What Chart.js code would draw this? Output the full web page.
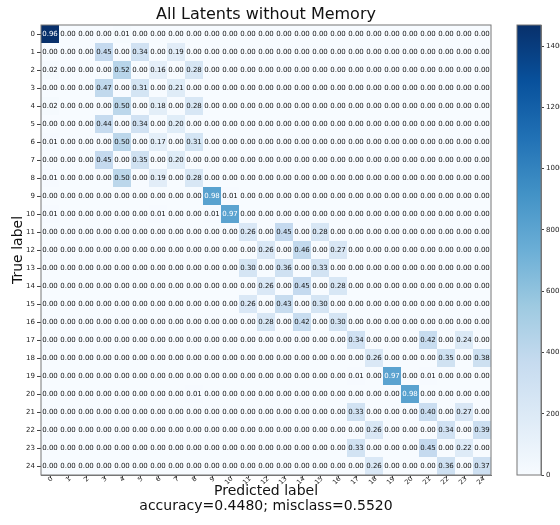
<!DOCTYPE html>
<html lang="en">
<head>
<meta charset="UTF-8">
<title>All Latents without Memory</title>
<script src="https://cdn.jsdelivr.net/npm/chart.js@4.4.1/dist/chart.umd.min.js"></script>
<style>
  body { margin: 0; background: #fff; }
  #wrap { position: relative; width: 560px; height: 525px; }
  #cmCanvas { position: absolute; left: 0; top: 0; }
  #barCanvas { position: absolute; left: 510px; top: 0; }
</style>
</head>
<body>
<div id="wrap">
  <canvas id="cmCanvas" width="560" height="525" style="width:560px;height:525px"></canvas>
  <canvas id="barCanvas" width="50" height="525" style="width:50px;height:525px"></canvas>
</div>
<script>
// chart data
const chartTitle = 'All Latents without Memory';
const xTitle = ['Predicted label', 'accuracy=0.4480; misclass=0.5520'];
const yTitle = 'True label';
const classLabels = ['0','1','2','3','4','5','6','7','8','9','10','11','12',
                     '13','14','15','16','17','18','19','20','21','22','23','24'];
// samples per true class (colour is drawn from raw counts)
const rowTotals = [1530, 830, 830, 830, 830, 830, 830, 830, 830, 830, 830, 830, 830,
                   830, 830, 830, 830, 830, 830, 830, 830, 830, 830, 830, 830];
const colorbarTicks = [0, 200, 400, 600, 800, 1000, 1200, 1400];

// normalised confusion matrix, one row per true label
const cmNorm = [
  [0.96,0,0,0,0.01,0,0,0,0,0, 0,0,0,0,0,0,0,0,0,0, 0,0,0,0,0],
  [0,0,0,0.45,0,0.34,0,0.19,0,0, 0,0,0,0,0,0,0,0,0,0, 0,0,0,0,0],
  [0.02,0,0,0,0.52,0,0.16,0,0.28,0, 0,0,0,0,0,0,0,0,0,0, 0,0,0,0,0],
  [0,0,0,0.47,0,0.31,0,0.21,0,0, 0,0,0,0,0,0,0,0,0,0, 0,0,0,0,0],
  [0.02,0,0,0,0.50,0,0.18,0,0.28,0, 0,0,0,0,0,0,0,0,0,0, 0,0,0,0,0],
  [0,0,0,0.44,0,0.34,0,0.20,0,0, 0,0,0,0,0,0,0,0,0,0, 0,0,0,0,0],
  [0.01,0,0,0,0.50,0,0.17,0,0.31,0, 0,0,0,0,0,0,0,0,0,0, 0,0,0,0,0],
  [0,0,0,0.45,0,0.35,0,0.20,0,0, 0,0,0,0,0,0,0,0,0,0, 0,0,0,0,0],
  [0.01,0,0,0,0.50,0,0.19,0,0.28,0, 0,0,0,0,0,0,0,0,0,0, 0,0,0,0,0],
  [0,0,0,0,0,0,0,0,0,0.98, 0.01,0,0,0,0,0,0,0,0,0, 0,0,0,0,0],
  [0.01,0,0,0,0,0,0.01,0,0,0.01, 0.97,0,0,0,0,0,0,0,0,0, 0,0,0,0,0],
  [0,0,0,0,0,0,0,0,0,0, 0,0.26,0,0.45,0,0.28,0,0,0,0, 0,0,0,0,0],
  [0,0,0,0,0,0,0,0,0,0, 0,0,0.26,0,0.46,0,0.27,0,0,0, 0,0,0,0,0],
  [0,0,0,0,0,0,0,0,0,0, 0,0.30,0,0.36,0,0.33,0,0,0,0, 0,0,0,0,0],
  [0,0,0,0,0,0,0,0,0,0, 0,0,0.26,0,0.45,0,0.28,0,0,0, 0,0,0,0,0],
  [0,0,0,0,0,0,0,0,0,0, 0,0.26,0,0.43,0,0.30,0,0,0,0, 0,0,0,0,0],
  [0,0,0,0,0,0,0,0,0,0, 0,0,0.28,0,0.42,0,0.30,0,0,0, 0,0,0,0,0],
  [0,0,0,0,0,0,0,0,0,0, 0,0,0,0,0,0,0,0.34,0,0, 0,0.42,0,0.24,0],
  [0,0,0,0,0,0,0,0,0,0, 0,0,0,0,0,0,0,0,0.26,0, 0,0,0.35,0,0.38],
  [0,0,0,0,0,0,0,0,0,0, 0,0,0,0,0,0,0,0.01,0,0.97, 0,0.01,0,0,0],
  [0,0,0,0,0,0,0,0,0.01,0, 0,0,0,0,0,0,0,0,0,0, 0.98,0,0,0,0],
  [0,0,0,0,0,0,0,0,0,0, 0,0,0,0,0,0,0,0.33,0,0, 0,0.40,0,0.27,0],
  [0,0,0,0,0,0,0,0,0,0, 0,0,0,0,0,0,0,0,0.26,0, 0,0,0.34,0,0.39],
  [0,0,0,0,0,0,0,0,0,0, 0,0,0,0,0,0,0,0.33,0,0, 0,0.45,0,0.22,0],
  [0,0,0,0,0,0,0,0,0,0, 0,0,0,0,0,0,0,0,0.26,0, 0,0,0.36,0,0.37]
];

// matplotlib "Blues"
const bluesStops = [
  [247,251,255],[222,235,247],[198,219,239],[158,202,225],[107,174,214],
  [66,146,198],[33,113,181],[8,81,156],[8,48,107]
];
function blues(t) {
  t = Math.max(0, Math.min(1, t)) * (bluesStops.length - 1);
  const i = Math.min(Math.floor(t), bluesStops.length - 2);
  const f = t - i, a = bluesStops[i], b = bluesStops[i + 1];
  const c = a.map((v, k) => Math.round(v + (b[k] - v) * f));
  return `rgb(${c[0]},${c[1]},${c[2]})`;
}

const counts = cmNorm.map((row, i) => row.map(v => v * rowTotals[i]));
const countMax = Math.max(...counts.flat());

const FONT = '"DejaVu Sans", sans-serif';
Chart.defaults.font.family = FONT;
Chart.defaults.color = '#222';

const cellText = {
  id: 'cellText',
  afterDatasetsDraw(chart) {
    const { ctx, chartArea, scales: { x, y } } = chart;
    ctx.save();
    ctx.font = '7px ' + FONT;
    ctx.textAlign = 'center';
    ctx.textBaseline = 'middle';
    cmNorm.forEach((row, i) => row.forEach((v, j) => {
      ctx.fillStyle = counts[i][j] > countMax / 2 ? '#fff' : '#111';
      ctx.fillText(v.toFixed(2), x.getPixelForValue(j), y.getPixelForValue(i));
    }));
    ctx.strokeStyle = '#777';
    ctx.lineWidth = 1;
    ctx.strokeRect(chartArea.left, chartArea.top, chartArea.width, chartArea.height);
    ctx.font = '16px ' + FONT;
    ctx.fillStyle = '#111';
    ctx.fillText(chartTitle, (chartArea.left + chartArea.right) / 2, chartArea.top - 10);
    ctx.restore();
  }
};

const datasets = classLabels.map((lab, j) => ({
  label: lab,
  data: classLabels.map(() => [j - 0.5, j + 0.5]),
  backgroundColor: counts.map(row => blues(row[j] / countMax)),
  grouped: false,
  barPercentage: 1,
  categoryPercentage: 1,
  borderWidth: 0,
  inflateAmount: 0
}));

new Chart(document.getElementById('cmCanvas'), {
  type: 'bar',
  data: { labels: classLabels, datasets },
  options: {
    indexAxis: 'y',
    responsive: false,
    animation: false,
    layout: { padding: { left: 0, right: 69, top: 25, bottom: 0 } },
    scales: {
      x: {
        type: 'linear', min: -0.5, max: classLabels.length - 0.5,
        afterBuildTicks: s => { s.ticks = classLabels.map((_, j) => ({ value: j })); },
        ticks: {
          callback: v => classLabels[v], minRotation: 45, maxRotation: 45,
          font: { size: 6.5 }, padding: -3, labelOffset: 2, autoSkip: false
        },
        grid: { drawOnChartArea: false, tickLength: 3, color: '#444' },
        border: { display: true, color: '#777' },
        title: {
          display: true, text: xTitle, color: '#111',
          font: { size: 14, lineHeight: 1.07 }, padding: { top: 0, bottom: 11 }
        },
        afterFit: s => { s.height = 50; }
      },
      y: {
        type: 'category', offset: true,
        ticks: { font: { size: 7 }, padding: 2, autoSkip: false },
        grid: { drawOnChartArea: false, offset: false, tickLength: 4, color: '#444' },
        border: { display: true, color: '#777' },
        title: {
          display: true, text: yTitle, color: '#111',
          font: { size: 14 }, padding: { top: 10, bottom: 0 }
        },
        afterFit: s => { s.width = 41; }
      }
    },
    plugins: { legend: { display: false }, tooltip: { enabled: false } }
  },
  plugins: [cellText]
});

// colour bar
const barFrame = {
  id: 'barFrame',
  afterDatasetsDraw(chart) {
    const { ctx, chartArea } = chart;
    ctx.save();
    ctx.strokeStyle = '#777';
    ctx.lineWidth = 1;
    ctx.strokeRect(chartArea.left, chartArea.top, chartArea.width, chartArea.height);
    ctx.restore();
  }
};

new Chart(document.getElementById('barCanvas'), {
  type: 'bar',
  data: {
    labels: [''],
    datasets: [{
      data: [[0, countMax]],
      backgroundColor: c => {
        const area = c.chart.chartArea;
        if (!area) return blues(0.5);
        const g = c.chart.ctx.createLinearGradient(0, area.bottom, 0, area.top);
        bluesStops.forEach((s, k) => g.addColorStop(k / (bluesStops.length - 1), `rgb(${s[0]},${s[1]},${s[2]})`));
        return g;
      },
      barPercentage: 1,
      categoryPercentage: 1,
      borderWidth: 0
    }]
  },
  options: {
    responsive: false,
    animation: false,
    layout: { padding: { left: 7, right: 0, top: 25, bottom: 50 } },
    scales: {
      x: { display: false },
      y: {
        position: 'right', min: 0, max: countMax,
        afterBuildTicks: s => { s.ticks = colorbarTicks.map(v => ({ value: v })); },
        ticks: { font: { size: 7 }, padding: 2, callback: v => String(v) },
        grid: { drawOnChartArea: false, tickLength: 3, color: '#444' },
        border: { display: true, color: '#777' },
        afterFit: s => { s.width = 19; }
      }
    },
    plugins: { legend: { display: false }, tooltip: { enabled: false } }
  },
  plugins: [barFrame]
});
</script>
</body>
</html>
